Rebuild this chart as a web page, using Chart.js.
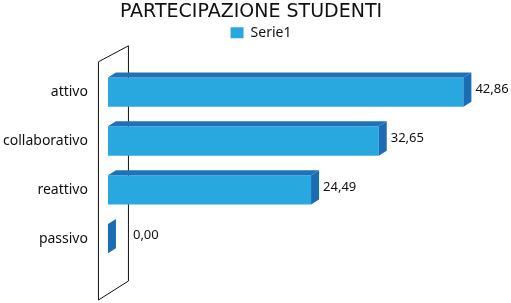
<!DOCTYPE html>
<html>
<head>
    <title>PARTECIPAZIONE STUDENTI</title>
    <script src="https://cdn.jsdelivr.net/npm/chart.js@4.4.0/dist/chart.umd.min.js"></script>
    <style>
        body { margin: 0; background: #fff; }
        .box { width: 511px; height: 303px; }
    </style>
</head>
<body>

<div class="box"><canvas id="myChart"></canvas></div>

<script>
    // dane wykresu
    var categorie = ["attivo", "collaborativo", "reattivo", "passivo"];
    var valori = [42.86, 32.65, 24.49, 0.00];
    var serie = "Serie1";
    var titolo = "PARTECIPAZIONE STUDENTI";

    var fronte = "#29a8e0";
    var sopra = "#1f72b8";
    var lato = "#1a6cb5";
    var font = "'Noto Sans', sans-serif";

    // glebokosc 3D
    var dx = 8, dy = -5;

    // odstep pod legenda + lekkie przesuniecie w prawo
    var legendMargin = {
        id: 'legendMargin',
        beforeInit: function(chart) {
            var fit = chart.legend.fit;
            chart.legend.fit = function() {
                fit.bind(chart.legend)();
                this.height += 18;
            };
        },
        afterLayout: function(chart) {
            chart.legend.left += 10;
            chart.legend.right += 10;
        }
    };

    // plugin: tylna scianka + bok/gora slupkow + etykiety
    var effetto3d = {
        id: 'effetto3d',
        beforeDatasetsDraw: function(chart) {
            var ctx = chart.ctx;
            var a = chart.chartArea;
            var zero = chart.scales.x.getPixelForValue(0);
            var x1 = zero - 10, x2 = zero + 20;
            var t = a.top - 6, b = a.bottom + 37;
            ctx.save();
            ctx.strokeStyle = "#111";
            ctx.lineWidth = 1;
            ctx.beginPath();
            ctx.moveTo(x1 + 0.5, t);
            ctx.lineTo(x2 + 0.5, t - 16);
            ctx.lineTo(x2 + 0.5, b - 19);
            ctx.lineTo(x1 + 0.5, b);
            ctx.closePath();
            ctx.stroke();
            ctx.restore();
        },
        afterDatasetsDraw: function(chart) {
            var ctx = chart.ctx;
            var meta = chart.getDatasetMeta(0);
            var zero = chart.scales.x.getPixelForValue(0);
            ctx.save();
            meta.data.forEach(function(bar, i) {
                var p = bar.getProps(['x', 'y', 'base', 'height'], true);
                var top = p.y - p.height / 2, bot = p.y + p.height / 2;
                // gora
                ctx.fillStyle = sopra;
                ctx.beginPath();
                ctx.moveTo(p.base, top);
                ctx.lineTo(p.x, top);
                ctx.lineTo(p.x + dx, top + dy);
                ctx.lineTo(p.base + dx, top + dy);
                ctx.closePath();
                ctx.fill();
                // bok
                ctx.fillStyle = lato;
                ctx.beginPath();
                ctx.moveTo(p.x, top);
                ctx.lineTo(p.x + dx, top + dy);
                ctx.lineTo(p.x + dx, bot + dy);
                ctx.lineTo(p.x, bot);
                ctx.closePath();
                ctx.fill();
                // etykieta
                ctx.fillStyle = "#111";
                ctx.font = "13px " + font;
                ctx.textBaseline = "middle";
                ctx.textAlign = "left";
                var lx = Math.max(p.x + dx + 4, zero + 25);
                ctx.fillText(valori[i].toFixed(2).replace('.', ','), lx, p.y - 3);
            });
            ctx.restore();
        }
    };

    const ctx = document.getElementById('myChart').getContext('2d');
    const myChart = new Chart(ctx, {
        type: 'bar',
        data: {
            labels: categorie,
            datasets: [{
                label: serie,
                data: valori,
                backgroundColor: fronte,
                borderWidth: 0,
                barPercentage: 0.6,
                categoryPercentage: 1.0
            }]
        },
        options: {
            indexAxis: 'y',
            responsive: true,
            maintainAspectRatio: false,
            animation: false,
            layout: {
                padding: { left: -9, right: 0, top: 1, bottom: 40 }
            },
            scales: {
                x: {
                    min: 0,
                    max: 48.6,
                    display: false
                },
                y: {
                    grid: { display: false },
                    border: { display: false },
                    ticks: {
                        color: "#111",
                        padding: 12,
                        font: { family: font, size: 14 }
                    }
                }
            },
            plugins: {
                title: {
                    display: true,
                    text: titolo,
                    color: "#111",
                    padding: { top: 0, bottom: 2 },
                    font: { family: "'DejaVu Sans', sans-serif", size: 19, weight: 'normal' }
                },
                legend: {
                    display: true,
                    labels: {
                        color: "#111",
                        boxWidth: 13,
                        boxHeight: 11,
                        padding: 0,
                        font: { family: font, size: 14 }
                    }
                },
                tooltip: { enabled: false }
            }
        },
        plugins: [legendMargin, effetto3d]
    });
</script>

</body>
</html>
